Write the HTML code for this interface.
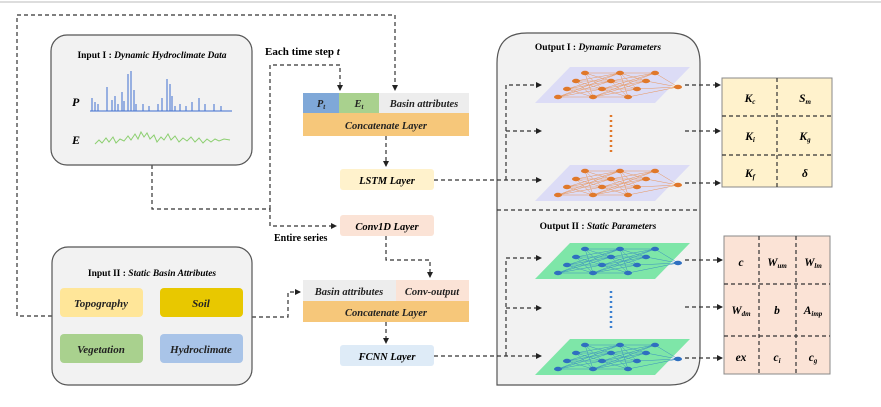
<!DOCTYPE html>
<html><head><meta charset="utf-8"><style>
html,body{margin:0;padding:0;background:#fff;}
svg{display:block;font-family:"Liberation Serif",serif;}
.b{font-weight:bold;}
.bi{font-weight:bold;font-style:italic;}
</style></head><body>
<svg width="881" height="407" viewBox="0 0 881 407" xmlns="http://www.w3.org/2000/svg">
<defs>
<marker id="ar" markerWidth="6" markerHeight="6" refX="5" refY="3" orient="auto" markerUnits="userSpaceOnUse"><path d="M0,0 L6,3 L0,6 z" fill="#222"/></marker>
<g id="lines">
<path d="M50,6L85,6M50,6L76,14M50,6L67,22M50,6L58,30M41,14L85,6M41,14L76,14M41,14L67,22M41,14L58,30M32,22L85,6M32,22L76,14M32,22L67,22M32,22L58,30M23,30L85,6M23,30L76,14M23,30L67,22M23,30L58,30M85,6L120,6M85,6L111,14M85,6L102,22M85,6L93,30M76,14L120,6M76,14L111,14M76,14L102,22M76,14L93,30M67,22L120,6M67,22L111,14M67,22L102,22M67,22L93,30M58,30L120,6M58,30L111,14M58,30L102,22M58,30L93,30M120,6L143,20M111,14L143,20M102,22L143,20M93,30L143,20" stroke-width="0.5" fill="none"/>
</g>
<g id="nodes">
<ellipse cx="50" cy="6" rx="4" ry="2.2"/><ellipse cx="41" cy="14" rx="4" ry="2.2"/><ellipse cx="32" cy="22" rx="4" ry="2.2"/><ellipse cx="23" cy="30" rx="4" ry="2.2"/>
<ellipse cx="85" cy="6" rx="4" ry="2.2"/><ellipse cx="76" cy="14" rx="4" ry="2.2"/><ellipse cx="67" cy="22" rx="4" ry="2.2"/><ellipse cx="58" cy="30" rx="4" ry="2.2"/>
<ellipse cx="120" cy="6" rx="4" ry="2.2"/><ellipse cx="111" cy="14" rx="4" ry="2.2"/><ellipse cx="102" cy="22" rx="4" ry="2.2"/><ellipse cx="93" cy="30" rx="4" ry="2.2"/>
<ellipse cx="143" cy="20" rx="4" ry="2.2"/>
</g>
<g id="onet"><polygon points="35,0 155,0 120,36 0,36" fill="#dcdcf6"/><g stroke="#e8955a"><use href="#lines"/></g><g fill="#e0782a"><use href="#nodes"/></g></g>
<g id="gnet"><polygon points="35,0 155,0 120,36 0,36" fill="#7ee6a8"/><g stroke="#3a8fc0"><use href="#lines"/></g><g fill="#2f6fc0"><use href="#nodes"/></g></g>
</defs>

<line x1="0" y1="2" x2="881" y2="2" stroke="#bbb" stroke-width="1"/>

<!-- Output box (drawn first) -->
<path d="M497,385 L497,63 Q497,33 527,33 L670,33 Q700,33 700,63 L700,355 Q700,385 670,385 Z" fill="#f2f2f2" stroke="#555" stroke-width="1.2"/>

<g fill="none" stroke="#333" stroke-width="1.2" stroke-dasharray="4,3">
<path d="M52,316 L17,316 L17,15 L395,15 L395,90" marker-end="url(#ar)"/>
<path d="M270,209 L270,65 L340,65 L340,90" marker-end="url(#ar)"/>
<path d="M152,165 L152,209 L270,209 L270,226 L336,226" marker-end="url(#ar)"/>
<path d="M386,136 L386,166" marker-end="url(#ar)"/>
<path d="M386,236 L386,260 L430,260 L430,277" marker-end="url(#ar)"/>
<path d="M252,317 L288,317 L288,292 L300,292" marker-end="url(#ar)"/>
<path d="M386,322 L386,343" marker-end="url(#ar)"/>
<path d="M434,180 L541,180" marker-end="url(#ar)"/>
<path d="M506,180 L506,85 L541,85" marker-end="url(#ar)"/>
<path d="M506,131 L541,131" marker-end="url(#ar)"/>
<path d="M434,356 L541,356" marker-end="url(#ar)"/>
<path d="M506,356 L506,258 L541,258" marker-end="url(#ar)"/>
<path d="M506,308 L541,308" marker-end="url(#ar)"/>
<line x1="497" y1="210" x2="700" y2="210"/>
<path d="M685,85 L720,85" marker-end="url(#ar)"/>
<path d="M685,131 L720,131" marker-end="url(#ar)"/>
<path d="M685,183 L720,183" marker-end="url(#ar)"/>
<path d="M685,260 L722,260" marker-end="url(#ar)"/>
<path d="M685,307 L722,307" marker-end="url(#ar)"/>
<path d="M685,358 L722,358" marker-end="url(#ar)"/>
</g>

<!-- Input I -->
<rect x="51" y="35" width="201" height="130" rx="16" fill="#f2f2f2" stroke="#555" stroke-width="1.2"/>
<text x="152" y="58" font-size="9.5" text-anchor="middle" class="b">Input I : <tspan font-style="italic">Dynamic Hydroclimate Data</tspan></text>
<text x="72" y="106" font-size="12" class="bi">P</text>
<text x="72" y="144" font-size="12" class="bi">E</text>
<path d="M90,111 L232,111 M92,111V98 M95,111V102 M98,111V104 M107,111V87 M112,111V100 M115,111V96 M118,111V104 M122,111V92 M124,111V101 M128,111V74 M131,111V71 M134,111V90 M136,111V104 M143,111V104 M149,111V106 M158,111V104 M162,111V98 M167,111V79 M170,111V84 M172,111V96 M175,111V106 M180,111V104 M186,111V106 M192,111V102 M199,111V98 M205,111V104 M214,111V104 M221,111V106" stroke="#3f6fd0" stroke-width="1" fill="none"/>
<path d="M95,144 L99,140 L102,143 L106,138 L109,142 L113,137 L116,143 L120,139 L124,141 L128,136 L131,140 L135,134 L138,139 L141,132 L144,137 L147,133 L150,139 L154,135 L157,142 L161,137 L164,140 L168,134 L171,140 L175,136 L179,142 L183,138 L187,141 L191,137 L195,142 L199,138 L203,143 L207,139 L211,142 L215,139 L219,141 L224,139 L230,140" stroke="#8ccf70" stroke-width="1" fill="none"/>

<!-- Input II -->
<rect x="52" y="247" width="200" height="138" rx="16" fill="#f2f2f2" stroke="#555" stroke-width="1.2"/>
<text x="152" y="276" font-size="9.5" text-anchor="middle" class="b">Input II : <tspan font-style="italic">Static Basin Attributes</tspan></text>
<rect x="60" y="288" width="83" height="29" rx="4" fill="#ffe699"/>
<rect x="160" y="288" width="83" height="29" rx="4" fill="#e8c800"/>
<rect x="60" y="334" width="83" height="29" rx="4" fill="#a9d18e"/>
<rect x="160" y="334" width="83" height="29" rx="4" fill="#a9c4e8"/>
<g font-size="11" class="bi" text-anchor="middle" fill="#222">
<text x="101" y="307">Topography</text><text x="201" y="307">Soil</text>
<text x="101" y="353">Vegetation</text><text x="201" y="353">Hydroclimate</text>
</g>

<text x="265" y="55" font-size="11" class="b">Each time step <tspan font-style="italic">t</tspan></text>
<text x="274" y="241" font-size="10" class="b">Entire series</text>

<rect x="303" y="93" width="36" height="20" fill="#7fa8d8"/>
<rect x="339" y="93" width="40" height="20" fill="#a9d18e"/>
<rect x="379" y="93" width="90" height="20" fill="#ededed"/>
<rect x="303" y="113" width="166" height="23" fill="#f6c77a"/>
<g font-size="10.5" class="bi" text-anchor="middle" fill="#222">
<text x="321" y="107">P<tspan font-size="7" dy="2">t</tspan></text>
<text x="359" y="107">E<tspan font-size="7" dy="2">t</tspan></text>
<text x="424" y="107">Basin attributes</text>
<text x="386" y="129">Concatenate Layer</text>
</g>
<rect x="340" y="169" width="94" height="21" rx="3" fill="#fff2cc"/>
<text x="387" y="184" font-size="10.5" class="bi" text-anchor="middle">LSTM Layer</text>
<rect x="340" y="215" width="94" height="21" rx="3" fill="#fbe3d6"/>
<text x="387" y="230" font-size="10.5" class="bi" text-anchor="middle">Conv1D Layer</text>

<rect x="303" y="280" width="93" height="21" fill="#ededed"/>
<rect x="396" y="280" width="73" height="21" fill="#fbe3d6"/>
<rect x="303" y="301" width="166" height="21" fill="#f6c77a"/>
<g font-size="10.5" class="bi" text-anchor="middle" fill="#222">
<text x="349" y="295">Basin attributes</text>
<text x="432" y="295">Conv-output</text>
<text x="386" y="316">Concatenate Layer</text>
</g>
<rect x="340" y="345" width="94" height="21" rx="3" fill="#deebf7"/>
<text x="387" y="360" font-size="10.5" class="bi" text-anchor="middle">FCNN Layer</text>

<text x="598" y="50" font-size="9.5" text-anchor="middle" class="b">Output I : <tspan font-style="italic">Dynamic Parameters</tspan></text>
<text x="598" y="229" font-size="9.5" text-anchor="middle" class="b">Output II : <tspan font-style="italic">Static Parameters</tspan></text>
<use href="#onet" x="535" y="67"/>
<use href="#onet" x="535" y="165"/>
<use href="#gnet" x="535" y="243"/>
<use href="#gnet" x="535" y="339"/>
<line x1="611" y1="115" x2="611" y2="152" stroke="#e0782a" stroke-width="2.5" stroke-dasharray="2,3"/>
<line x1="611" y1="291" x2="611" y2="328" stroke="#3a7fd0" stroke-width="2.5" stroke-dasharray="2,3"/>

<rect x="722" y="78" width="110" height="109" fill="#fff2cc" stroke="#888" stroke-width="1"/>
<g stroke="#333" stroke-width="1.2" stroke-dasharray="4,3">
<line x1="777" y1="78" x2="777" y2="187"/><line x1="722" y1="116" x2="832" y2="116"/><line x1="722" y1="155" x2="832" y2="155"/>
</g>
<g font-size="11.5" class="bi" text-anchor="middle">
<text x="750" y="102">K<tspan font-size="7" dy="2">c</tspan></text>
<text x="805" y="102">S<tspan font-size="7" dy="2">m</tspan></text>
<text x="750" y="140">K<tspan font-size="7" dy="2">i</tspan></text>
<text x="805" y="140">K<tspan font-size="7" dy="2">g</tspan></text>
<text x="750" y="177">K<tspan font-size="7" dy="2">f</tspan></text>
<text x="805" y="177">δ</text>
</g>
<rect x="724" y="236" width="106" height="138" fill="#fbe3d6" stroke="#888" stroke-width="1"/>
<g stroke="#333" stroke-width="1.2" stroke-dasharray="4,3">
<line x1="759" y1="236" x2="759" y2="374"/><line x1="796" y1="236" x2="796" y2="374"/>
<line x1="724" y1="284" x2="830" y2="284"/><line x1="724" y1="336" x2="830" y2="336"/>
</g>
<g font-size="11.5" class="bi" text-anchor="middle">
<text x="741" y="266">c</text>
<text x="777" y="266">W<tspan font-size="7" dy="2">um</tspan></text>
<text x="813" y="266">W<tspan font-size="7" dy="2">lm</tspan></text>
<text x="741" y="314">W<tspan font-size="7" dy="2">dm</tspan></text>
<text x="777" y="314">b</text>
<text x="813" y="314">A<tspan font-size="7" dy="2">imp</tspan></text>
<text x="741" y="361">ex</text>
<text x="777" y="361">c<tspan font-size="7" dy="2">i</tspan></text>
<text x="813" y="361">c<tspan font-size="7" dy="2">g</tspan></text>
</g>
</svg>
</body></html>
